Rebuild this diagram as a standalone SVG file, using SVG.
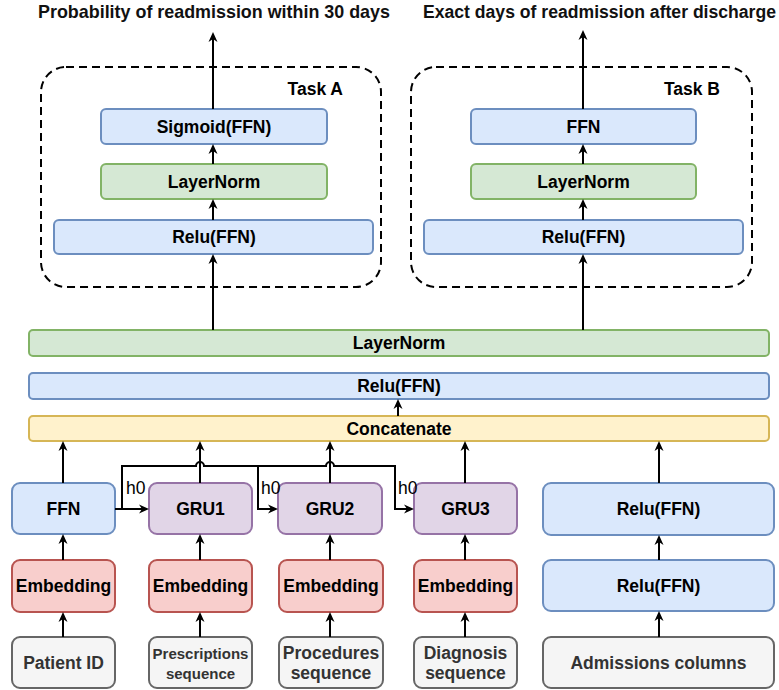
<svg xmlns="http://www.w3.org/2000/svg" width="779" height="690" viewBox="0 0 779 690">
<defs>
<marker id="arr" viewBox="0 0 10 10" markerWidth="10" markerHeight="10" refX="3" refY="5" orient="auto" markerUnits="userSpaceOnUse">
<path d="M0,0.5 L10,5 L0,9.5 L3,5 z" fill="#000"/>
</marker>
<style>
text{font-family:"Liberation Sans",Arial,Helvetica,sans-serif;font-size:17.5px;font-weight:bold;fill:#000;text-anchor:middle}
.title{font-size:17.9px;fill:#111}
.blue{fill:#dae8fc;stroke:#6c8ebf;stroke-width:2}
.green{fill:#d5e8d4;stroke:#82b366;stroke-width:2}
.yellow{fill:#fff2cc;stroke:#d6b656;stroke-width:2}
.purple{fill:#e1d5e7;stroke:#9673a6;stroke-width:2}
.red{fill:#f8cecc;stroke:#b85450;stroke-width:2}
.gray{fill:#f5f5f5;stroke:#666666;stroke-width:2}
.gt{fill:#333333}
.dash{fill:none;stroke:#000;stroke-width:2;stroke-dasharray:8 5}
.c{fill:none;stroke:#000;stroke-width:2;marker-end:url(#arr)}
.h0{font-weight:normal;text-anchor:start}
</style>
</defs>
<rect width="779" height="690" fill="#fff"/>

<g id="titles">
<text class="title" x="214" y="18">Probability of readmission within 30 days</text>
<text class="title" x="423" y="18" style="text-anchor:start;font-size:17.6px">Exact days of readmission after discharge</text>
</g>

<g id="taskA">
<rect class="dash" x="41" y="67" width="340" height="220" rx="25"/>
<text x="343" y="95" style="text-anchor:end">Task A</text>
</g>
<g id="taskB">
<rect class="dash" x="411" y="67" width="341" height="220" rx="25"/>
<text x="720" y="95" style="text-anchor:end">Task B</text>
</g>

<g id="sigmoidA"><rect class="blue" x="101" y="109" width="226" height="35" rx="5"/><text x="214" y="132.5">Sigmoid(FFN)</text></g>
<g id="layernormA"><rect class="green" x="101" y="164" width="226" height="35" rx="5"/><text x="214" y="187.5">LayerNorm</text></g>
<g id="reluA"><rect class="blue" x="54" y="220" width="319" height="34" rx="5"/><text x="214" y="243">Relu(FFN)</text></g>

<g id="ffnB"><rect class="blue" x="471" y="109" width="225" height="35" rx="5"/><text x="583.5" y="132.5">FFN</text></g>
<g id="layernormB"><rect class="green" x="471" y="164" width="225" height="35" rx="5"/><text x="583.5" y="187.5">LayerNorm</text></g>
<g id="reluB"><rect class="blue" x="424" y="220" width="319" height="34" rx="5"/><text x="583.5" y="243">Relu(FFN)</text></g>

<g id="layernorm"><rect class="green" x="29" y="330" width="740" height="26" rx="4"/><text x="399" y="349">LayerNorm</text></g>
<g id="relu"><rect class="blue" x="29" y="373" width="740" height="26" rx="4"/><text x="399" y="392">Relu(FFN)</text></g>
<g id="concat"><rect class="yellow" x="29" y="416" width="740" height="25" rx="4"/><text x="399" y="434.5">Concatenate</text></g>

<g id="ffn"><rect class="blue" x="12" y="483" width="103" height="51" rx="8"/><text x="63.5" y="514.5">FFN</text></g>
<g id="gru1"><rect class="purple" x="149" y="483" width="103" height="51" rx="8"/><text x="200.5" y="514.5">GRU1</text></g>
<g id="gru2"><rect class="purple" x="278" y="483" width="104" height="51" rx="8"/><text x="330" y="514.5">GRU2</text></g>
<g id="gru3"><rect class="purple" x="414" y="483" width="103" height="51" rx="8"/><text x="465.5" y="514.5">GRU3</text></g>
<g id="reluR1"><rect class="blue" x="543" y="483" width="231" height="52" rx="8"/><text x="658.5" y="515">Relu(FFN)</text></g>

<g id="emb1"><rect class="red" x="12" y="560" width="103" height="52" rx="8"/><text x="63.5" y="592">Embedding</text></g>
<g id="emb2"><rect class="red" x="149" y="560" width="103" height="52" rx="8"/><text x="200.5" y="592">Embedding</text></g>
<g id="emb3"><rect class="red" x="279" y="560" width="104" height="52" rx="8"/><text x="331" y="592">Embedding</text></g>
<g id="emb4"><rect class="red" x="414" y="560" width="103" height="52" rx="8"/><text x="465.5" y="592">Embedding</text></g>
<g id="reluR2"><rect class="blue" x="543" y="560" width="231" height="51" rx="8"/><text x="658.5" y="591.5">Relu(FFN)</text></g>

<g id="patient"><rect class="gray" x="12" y="637" width="103" height="51" rx="8"/><text class="gt" x="63.5" y="668.5">Patient ID</text></g>
<g id="prescriptions"><rect class="gray" x="149" y="637" width="103" height="51" rx="8"/><text class="gt" x="200.5" y="659" style="font-size:15px">Prescriptions</text><text class="gt" x="200.5" y="679" style="font-size:15px">sequence</text></g>
<g id="procedures"><rect class="gray" x="279" y="637" width="104" height="51" rx="8"/><text class="gt" x="331" y="659">Procedures</text><text class="gt" x="331" y="679">sequence</text></g>
<g id="diagnosis"><rect class="gray" x="414" y="637" width="103" height="51" rx="8"/><text class="gt" x="465.5" y="659">Diagnosis</text><text class="gt" x="465.5" y="679">sequence</text></g>
<g id="admissions"><rect class="gray" x="543" y="637" width="231" height="51" rx="8"/><text class="gt" x="658.5" y="668.5">Admissions columns</text></g>

<g id="connectors">
<path class="c" d="M213,109 V39"/>
<path class="c" d="M213,164 V151"/>
<path class="c" d="M213,220 V206"/>
<path class="c" d="M213,330 V261"/>
<path class="c" d="M583,109 V37"/>
<path class="c" d="M583,164 V151"/>
<path class="c" d="M583,220 V206"/>
<path class="c" d="M583,330 V261"/>
<path class="c" d="M398,416 V406"/>
<path class="c" d="M63,483 V448"/>
<path class="c" d="M200,483 V448"/>
<path class="c" d="M330,483 V448"/>
<path class="c" d="M465,483 V448"/>
<path class="c" d="M659,483 V448"/>
<path class="c" d="M63,560 V541"/>
<path class="c" d="M200,560 V541"/>
<path class="c" d="M330,560 V541"/>
<path class="c" d="M465,560 V541"/>
<path class="c" d="M659,560 V542"/>
<path class="c" d="M63,637 V619"/>
<path class="c" d="M200,637 V619"/>
<path class="c" d="M330,637 V619"/>
<path class="c" d="M465,637 V619"/>
<path class="c" d="M659,637 V618"/>
<path class="c" d="M115,509 H142"/>
<path class="c" d="M122,509 V466 H196 a4,4 0 0 1 8,0 H258 V509 H271"/>
<path class="c" d="M258,466 H326 a4,4 0 0 1 8,0 H395 V509 H407"/>
</g>
<g id="labels">
<text class="h0" x="126" y="494">h0</text>
<text class="h0" x="261" y="494">h0</text>
<text class="h0" x="398" y="494">h0</text>
</g>
</svg>
